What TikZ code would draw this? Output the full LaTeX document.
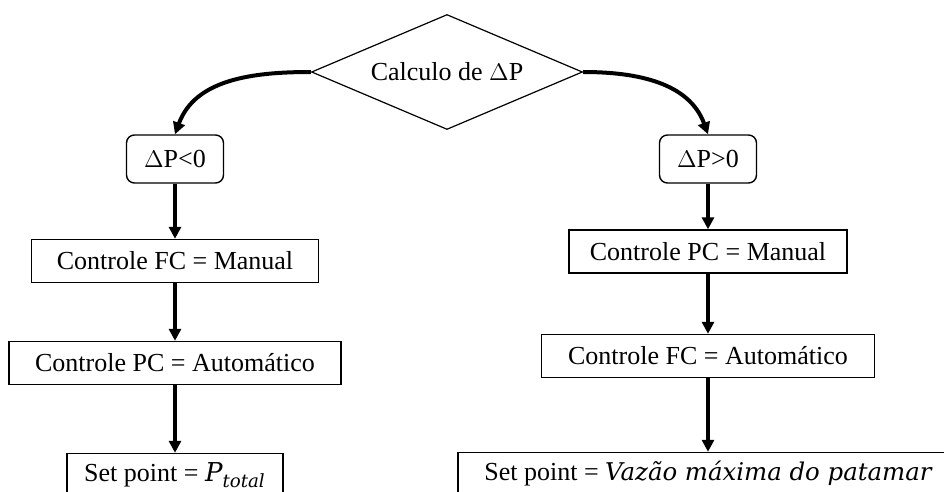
\documentclass[tikz,border=0pt]{standalone}
\usepackage{fontspec}
\setmainfont{Liberation Serif}
\newfontfamily\mathfnt{DejaVu Serif}
\usetikzlibrary{shapes.geometric,arrows.meta}

\begin{document}
\begin{tikzpicture}[
    x=0.5pt, y=-0.5pt,
    font=\fontsize{13}{15}\selectfont,
    >={Triangle[length=6pt,width=6pt]},
    decision/.style={diamond, draw, line width=0.6pt, aspect=2.36, inner sep=0pt, minimum width=135.5pt, minimum height=57.5pt},
    cond/.style={rectangle, rounded corners=4pt, draw, line width=0.7pt, minimum width=48.5pt, minimum height=24pt},
    action/.style={rectangle, draw, line width=0.7pt, minimum height=21.5pt},
    flow/.style={->, line width=1.6pt},
    branch/.style={->, line width=2pt}
  ]
    \useasboundingbox (0,0) rectangle (944,492);

    \node[decision] (calc) at (447,72) {Calculo de $\Delta$P};

    % ramo da esquerda
    \node[cond] (lt) at (175,159) {$\Delta$P<0};
    \node[action, minimum width=143.5pt] (l1) at (175,261) {Controle FC = Manual};
    \node[action, minimum width=166pt] (l2) at (175,363) {Controle PC = Automático};
    \node[action, minimum width=108pt] (l3) at (175,475) {Set point = {\mathfnt\itshape P\textsubscript{total}}};

    % ramo da direita
    \node[cond] (gt) at (708,159) {$\Delta$P>0};
    \node[action, minimum width=139pt] (r1) at (708,251.5) {Controle PC = Manual};
    \node[action, minimum width=166.5pt] (r2) at (708,356) {Controle FC = Automático};
    \node[action, minimum width=250pt] (r3) at (708,474) {Set point = {\mathfnt\itshape\fontsize{12.2}{15}\selectfont Vazão máxima do patamar}};

    \draw[branch] (calc.west) to[out=180, in=70] (lt.north);
    \draw[branch] (calc.east) to[out=0, in=110] (gt.north);

    \draw[flow] (lt) -- (l1);
    \draw[flow] (l1) -- (l2);
    \draw[flow] (l2) -- (l3);
    \draw[flow] (gt) -- (r1);
    \draw[flow] (r1) -- (r2);
    \draw[flow] (r2) -- (r3);
  \end{tikzpicture}
\end{document}
